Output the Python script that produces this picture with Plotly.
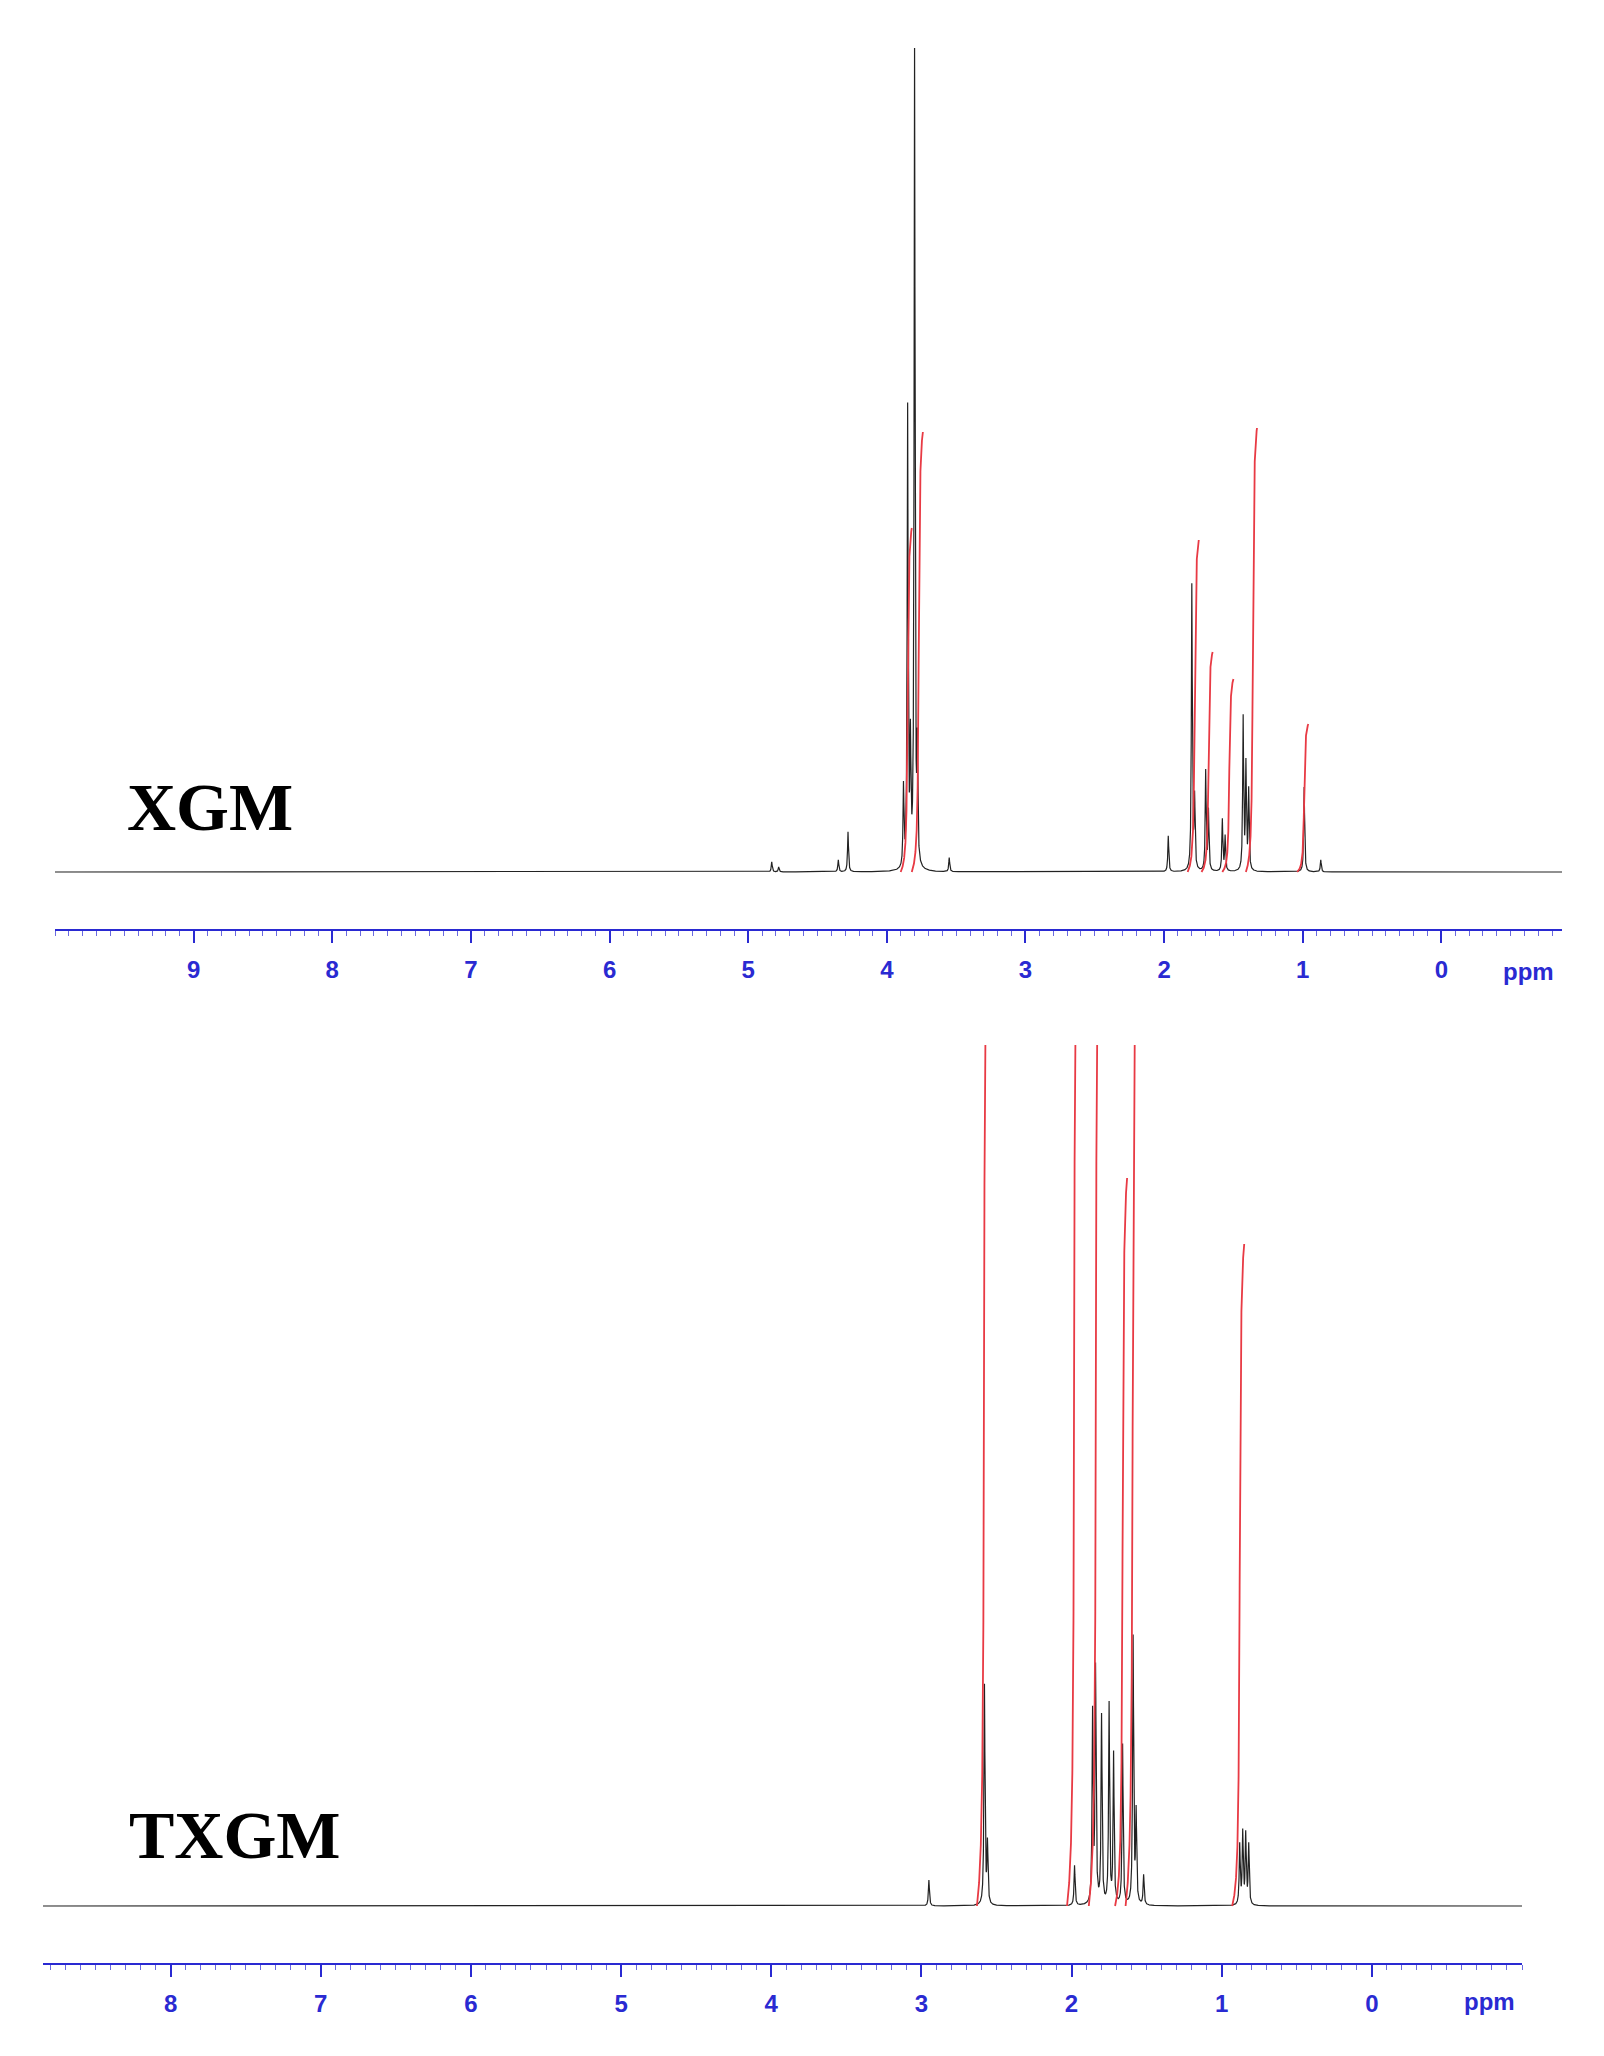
import numpy as np
import plotly.graph_objects as go

# ---- data: XGM (top) ----
xgm_ppm    = [4.83, 4.78, 4.35, 4.28, 3.88, 3.85, 3.83, 3.80, 3.78, 3.55, 1.97, 1.80, 1.78, 1.70, 1.68, 1.58, 1.56, 1.43, 1.41, 1.39, 0.99, 0.87]
xgm_height = [10, 5, 12, 40, 80, 458, 120, 824, 110, 14, 36, 286, 70, 100, 60, 52, 35, 153, 105, 80, 85, 12]
xgm_int_ppm    = [3.85, 3.77, 1.78, 1.68, 1.53, 1.36, 0.99]
xgm_int_height = [344, 440, 332, 220, 193, 444, 148]

# ---- data: TXGM (bottom) ----
txgm_ppm    = [2.95, 2.58, 2.56, 1.98, 1.86, 1.84, 1.80, 1.75, 1.72, 1.66, 1.59, 1.57, 1.52, 0.88, 0.86, 0.84, 0.82]
txgm_height = [26, 220, 60, 40, 190, 234, 188, 200, 150, 160, 267, 90, 30, 60, 72, 70, 60]
txgm_int_ppm    = [2.58, 1.98, 1.835, 1.66, 1.59, 0.88]
txgm_int_height = [1400, 1400, 1400, 728, 1400, 662]

tick_vals = list(range(0, 10))

W = 0.004  # line width (ppm)

def spectrum(x, ppm, h):
    y = np.zeros_like(x)
    for p, a in zip(ppm, h):
        y += a * W**2 / ((x - p)**2 + W**2)
    return y

fig = go.Figure()
x1 = np.linspace(10.0, -0.87, 30000)
x2 = np.linspace(8.85, -1.0, 30000)
fig.add_trace(go.Scatter(x=x1, y=spectrum(x1, xgm_ppm, xgm_height), mode="lines",
                         line=dict(color="#222", width=1.2), xaxis="x", yaxis="y"))
fig.add_trace(go.Scatter(x=x2, y=spectrum(x2, txgm_ppm, txgm_height), mode="lines",
                         line=dict(color="#222", width=1.2), xaxis="x2", yaxis="y2"))

def integ(p, H, xa, ya):
    w = 0.006
    xs = np.linspace(p + 0.05, p - 0.03, 300)
    f = 0.5 + np.arctan((p - xs) / w) / np.pi
    ys = H * (f - f[0]) / (f[-1] - f[0])
    fig.add_trace(go.Scatter(x=xs, y=ys, mode="lines", line=dict(color="#e83a44", width=1.8),
                             xaxis=xa, yaxis=ya))

for p, H in zip(xgm_int_ppm, xgm_int_height):
    integ(p, H, "x", "y")
for p, H in zip(txgm_int_ppm, txgm_int_height):
    integ(p, H, "x2", "y2")

blue = "#2a2ad2"
axis_common = dict(showline=True, linecolor=blue, linewidth=2, ticks="outside", ticklen=12,
                   tickcolor=blue, tickwidth=2, tickvals=tick_vals, showgrid=False, zeroline=False,
                   tickfont=dict(family="Liberation Sans", size=24, color=blue, weight="bold"),
                   ticklabelstandoff=6,
                   minor=dict(dtick=0.1, ticks="outside", ticklen=5, tickcolor="#6a6ae0", tickwidth=1))

fig.update_layout(
    width=1604, height=2056, margin=dict(l=0, r=0, t=0, b=0),
    paper_bgcolor="white", plot_bgcolor="white", showlegend=False,
    xaxis=dict(range=[10.0, -0.87], domain=[47/1604, 1554/1604], anchor="y", **axis_common),
    yaxis=dict(range=[-57, 824], domain=[1 - 921/2056, 1 - 40/2056], visible=False),
    xaxis2=dict(range=[8.85, -1.0], domain=[35/1604, 1514/1604], anchor="y2", **axis_common),
    yaxis2=dict(range=[-57, 861], domain=[1 - 1955/2056, 1 - 1037/2056], visible=False),
    annotations=[
        dict(text="ppm", xref="paper", yref="paper", x=1520/1604, y=1 - 963/2056, showarrow=False,
             font=dict(family="Liberation Sans", size=24, color=blue, weight="bold"), xanchor="center"),
        dict(text="ppm", xref="paper", yref="paper", x=1481/1604, y=1 - 2009/2056, showarrow=False,
             font=dict(family="Liberation Sans", size=24, color=blue, weight="bold"), xanchor="center"),
        dict(text="XGM", xref="paper", yref="paper", x=117/1604, y=1 - 799/2056, showarrow=False,
             xanchor="left", font=dict(family="Liberation Serif", size=68, color="black", weight="bold")),
        dict(text="TXGM", xref="paper", yref="paper", x=119/1604, y=1 - 1867/2056, showarrow=False,
             xanchor="left", font=dict(family="Liberation Serif", size=68, color="black", weight="bold")),
    ],
)
fig.write_html("out.html")
